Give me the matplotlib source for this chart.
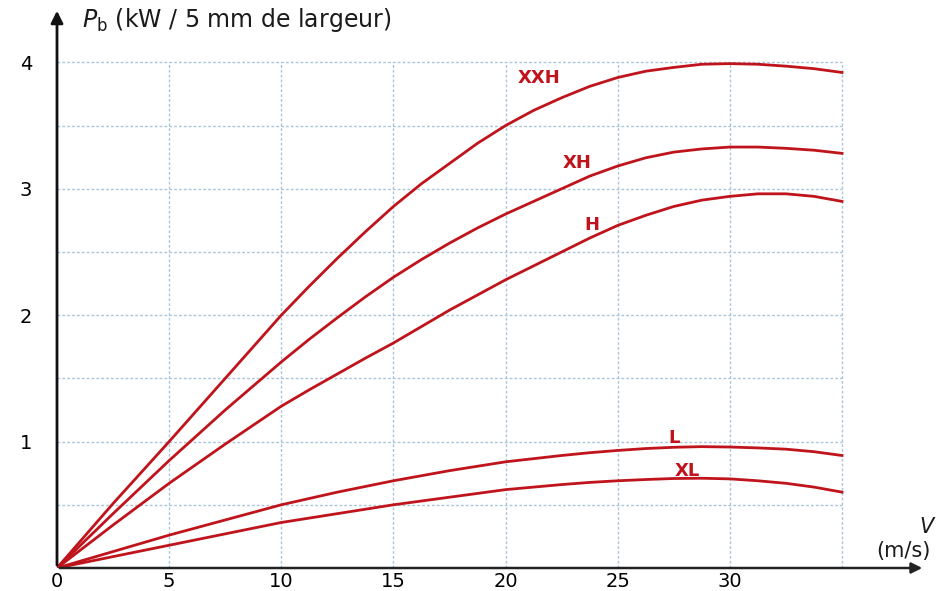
import matplotlib.pyplot as plt

# Speed (m/s) and transmitted power (kW per 5 mm of width)
speed = [0, 2.5, 5, 7.5, 10, 11.25, 12.5, 13.75, 15, 16.25, 17.5, 18.75, 20,
         21.25, 22.5, 23.75, 25, 26.25, 27.5, 28.75, 30, 31.25, 32.5, 33.75, 35]
power_xxh = [0, 0.51, 1.00, 1.50, 2.00, 2.23, 2.45, 2.66, 2.86, 3.04, 3.20, 3.36, 3.50,
             3.62, 3.72, 3.81, 3.88, 3.93, 3.96, 3.985, 3.99, 3.985, 3.97, 3.95, 3.92]
power_xh = [0, 0.43, 0.85, 1.25, 1.63, 1.81, 1.98, 2.145, 2.30, 2.44, 2.57, 2.69, 2.80,
            2.90, 3.00, 3.10, 3.18, 3.245, 3.29, 3.315, 3.33, 3.33, 3.32, 3.305, 3.28]
power_h = [0, 0.34, 0.67, 0.98, 1.28, 1.41, 1.535, 1.66, 1.78, 1.91, 2.04, 2.16, 2.28,
           2.39, 2.50, 2.61, 2.71, 2.79, 2.86, 2.91, 2.94, 2.96, 2.96, 2.94, 2.90]
power_l = [0, 0.13, 0.26, 0.38, 0.50, 0.55, 0.60, 0.645, 0.69, 0.73, 0.77, 0.805, 0.84,
           0.865, 0.89, 0.912, 0.93, 0.945, 0.955, 0.96, 0.957, 0.95, 0.94, 0.92, 0.89]
power_xl = [0, 0.09, 0.18, 0.27, 0.36, 0.395, 0.43, 0.465, 0.50, 0.53, 0.56, 0.59, 0.62,
            0.64, 0.66, 0.677, 0.69, 0.70, 0.708, 0.71, 0.705, 0.69, 0.67, 0.64, 0.60]

series = [("XXH", power_xxh), ("XH", power_xh), ("H", power_h), ("L", power_l), ("XL", power_xl)]
label_pos = {"XXH": (21.5, 3.88), "XH": (23.2, 3.2), "H": (23.85, 2.71), "L": (27.5, 1.03), "XL": (28.1, 0.77)}

x_ticks = [0, 5, 10, 15, 20, 25, 30]
y_ticks = [1, 2, 3, 4]

red = '#c0141c'
grid_color = '#abc6da'

fig = plt.figure(figsize=(9.48, 5.91), dpi=100)
ax = fig.add_axes([57 / 948, 23 / 591, 868 / 948, 560 / 591])
ax.set_xlim(0, 38.7)
ax.set_ylim(0, 4.43)

# Grid only inside the 0..35 x 0..4 area
for yv in [0.5, 1, 1.5, 2, 2.5, 3, 3.5, 4]:
    ax.plot([0, 35], [yv, yv], color=grid_color, lw=1, ls=(0, (2, 1.5)), zorder=1)
for xv in [5, 10, 15, 20, 25, 30, 35]:
    ax.plot([xv, xv], [0, 4], color=grid_color, lw=1, ls=(0, (2, 1.5)), zorder=1)

for name, vals in series:
    ax.plot(speed, vals, color=red, lw=2, zorder=3, solid_joinstyle='round')
    lx, ly = label_pos[name]
    ax.text(lx, ly, name, color=red, fontsize=13, fontweight='bold', ha='center', va='center')

for s in ax.spines.values():
    s.set_visible(False)

# Axes as arrows
ax.annotate('', xy=(1, 0), xytext=(0, 0), xycoords='axes fraction',
            arrowprops=dict(arrowstyle='-|>', color='#222222', lw=1.8, mutation_scale=16))
ax.annotate('', xy=(0, 1), xytext=(0, 0), xycoords='axes fraction',
            arrowprops=dict(arrowstyle='-|>', color='#111111', lw=2, mutation_scale=18))

ax.set_xticks(x_ticks)
ax.set_yticks(y_ticks)
ax.tick_params(axis='x', length=0, pad=3, labelsize=14)
ax.tick_params(axis='y', length=0, pad=18, labelsize=14)

fig.text(82 / 948, 1 - 20 / 591, r'$P_\mathrm{b}$ (kW / 5 mm de largeur)', fontsize=17,
         ha='left', va='center', color='#1a1a1a')
fig.text(928 / 948, 1 - 527 / 591, r'$V$', fontsize=15, ha='center', va='center', color='#1a1a1a')
fig.text(903 / 948, 1 - 551 / 591, '(m/s)', fontsize=15, ha='center', va='center', color='#1a1a1a')

fig.savefig('out.png', dpi=100)
